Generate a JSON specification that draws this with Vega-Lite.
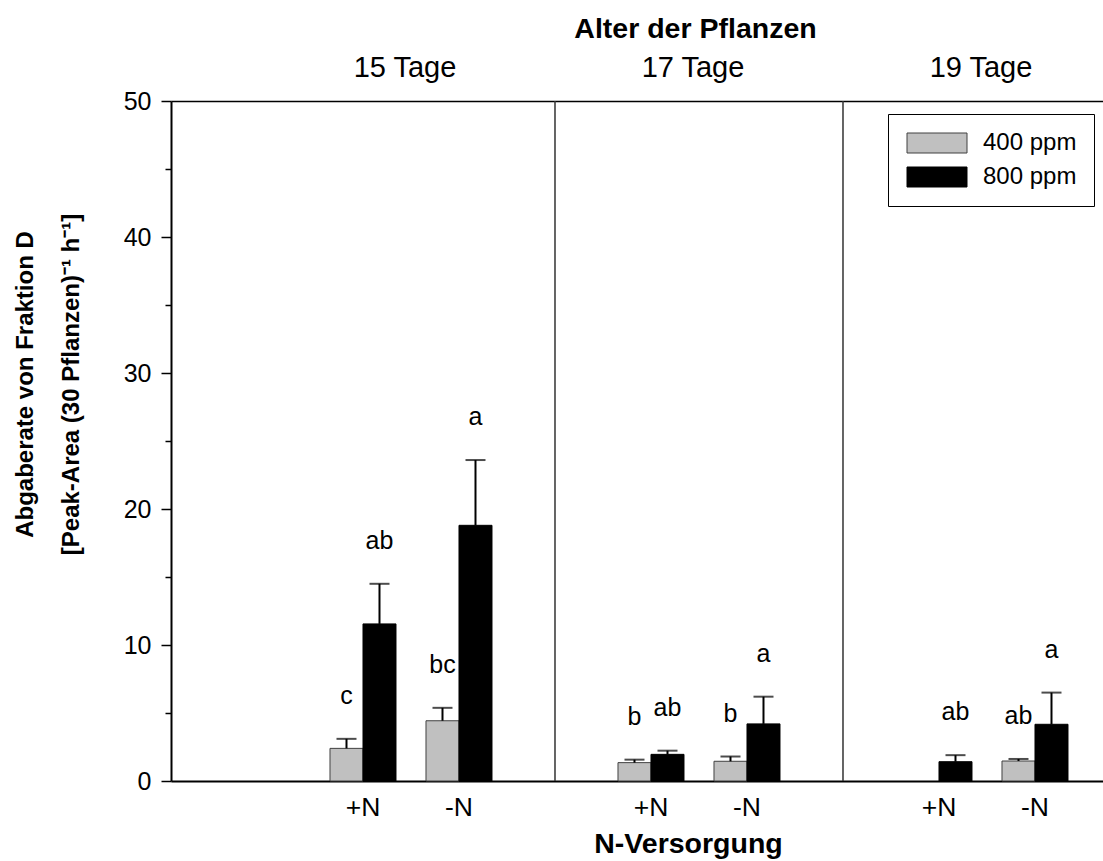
{
  "$schema": "https://vega.github.io/schema/vega-lite/v6.json",
  "width": 932,
  "height": 680,
  "autosize": {"type": "none"},
  "padding": {"left": 171, "top": 101, "right": 0, "bottom": 80},
  "config": {
    "view": {"stroke": null},
    "font": "Liberation Sans",
    "axis": {"grid": false}
  },
  "datasets": {
    "werte": [
      {"alter": "15 Tage", "n": "+N", "gruppe": "15 Tage +N", "co2": "400 ppm", "mittel": 2.4, "obergrenze": 3.1, "buchstabe": "c"},
      {"alter": "15 Tage", "n": "+N", "gruppe": "15 Tage +N", "co2": "800 ppm", "mittel": 11.55, "obergrenze": 14.5, "buchstabe": "ab"},
      {"alter": "15 Tage", "n": "-N", "gruppe": "15 Tage -N", "co2": "400 ppm", "mittel": 4.43, "obergrenze": 5.38, "buchstabe": "bc"},
      {"alter": "15 Tage", "n": "-N", "gruppe": "15 Tage -N", "co2": "800 ppm", "mittel": 18.8, "obergrenze": 23.6, "buchstabe": "a"},
      {"alter": "17 Tage", "n": "+N", "gruppe": "17 Tage +N", "co2": "400 ppm", "mittel": 1.35, "obergrenze": 1.57, "buchstabe": "b"},
      {"alter": "17 Tage", "n": "+N", "gruppe": "17 Tage +N", "co2": "800 ppm", "mittel": 1.96, "obergrenze": 2.23, "buchstabe": "ab"},
      {"alter": "17 Tage", "n": "-N", "gruppe": "17 Tage -N", "co2": "400 ppm", "mittel": 1.45, "obergrenze": 1.8, "buchstabe": "b"},
      {"alter": "17 Tage", "n": "-N", "gruppe": "17 Tage -N", "co2": "800 ppm", "mittel": 4.2, "obergrenze": 6.2, "buchstabe": "a"},
      {"alter": "19 Tage", "n": "+N", "gruppe": "19 Tage +N", "co2": "800 ppm", "mittel": 1.42, "obergrenze": 1.9, "buchstabe": "ab"},
      {"alter": "19 Tage", "n": "-N", "gruppe": "19 Tage -N", "co2": "400 ppm", "mittel": 1.47, "obergrenze": 1.62, "buchstabe": "ab"},
      {"alter": "19 Tage", "n": "-N", "gruppe": "19 Tage -N", "co2": "800 ppm", "mittel": 4.17, "obergrenze": 6.5, "buchstabe": "a"}
    ],
    "trenner": [
      {"gruppe": "15|17"},
      {"gruppe": "17|19"}
    ]
  },
  "layer": [
    {
      "data": {"name": "trenner"},
      "mark": {"type": "rule", "color": "#333333", "strokeWidth": 1.5},
      "encoding": {
        "x": {
          "field": "gruppe", "type": "nominal",
          "scale": {"type": "band", "domain": ["15 Tage +N", "15 Tage -N", "15|17", "17 Tage +N", "17 Tage -N", "17|19", "19 Tage +N", "19 Tage -N"], "paddingInner": 0, "paddingOuter": 0.8542, "align": 0.878},
          "axis": {
            "orient": "top",
            "title": "Alter der Pflanzen",
            "titleFontSize": 28.5, "titleFontWeight": "bold", "titleColor": "#000",
            "titleX": 524, "titleY": -64, "titleAlign": "center", "titleBaseline": "alphabetic",
            "labelExpr": "substring(datum.value, 8) === '+N' ? substring(datum.value, 0, 7) : ''",
            "labelAngle": 0, "labelOffset": 42, "labelFontSize": 29, "labelColor": "#000",
            "labelBaseline": "alphabetic", "labelPadding": 25,
            "ticks": false, "tickSize": 0,
            "domainColor": "#000", "domainWidth": 1.5
          }
        }
      }
    },
    {
      "data": {"name": "werte"},
      "mark": {"type": "bar", "strokeWidth": 1},
      "encoding": {
        "x": {
          "field": "gruppe", "type": "nominal",
          "scale": {"type": "band", "domain": ["15 Tage +N", "15 Tage -N", "15|17", "17 Tage +N", "17 Tage -N", "17|19", "19 Tage +N", "19 Tage -N"], "paddingInner": 0, "paddingOuter": 0.8542, "align": 0.878},
          "axis": {
            "orient": "bottom",
            "title": "N-Versorgung",
            "titleFontSize": 28.5, "titleFontWeight": "bold", "titleColor": "#000",
            "titleX": 517, "titleY": 71, "titleAlign": "center", "titleBaseline": "alphabetic",
            "labelExpr": "substring(datum.value, 8)",
            "labelAngle": 0, "labelFontSize": 26.5, "labelColor": "#000",
            "labelBaseline": "top", "labelPadding": 13,
            "ticks": false, "tickSize": 0,
            "domainColor": "#000", "domainWidth": 2
          }
        },
        "xOffset": {"field": "co2", "type": "nominal", "scale": {"domain": ["400 ppm", "800 ppm"], "paddingInner": 0, "paddingOuter": 0.4545}},
        "y": {
          "field": "mittel", "type": "quantitative",
          "scale": {"domain": [0, 50], "nice": false},
          "axis": {
            "orient": "left",
            "values": [0, 10, 20, 30, 40, 50],
            "tickSize": 10, "tickWidth": 1.5, "tickColor": "#000",
            "domainColor": "#000", "domainWidth": 2,
            "labelFontSize": 25, "labelColor": "#000", "labelPadding": 10, "labelBaseline": "middle",
            "title": ["Abgaberate von Fraktion D", "[Peak-Area (30 Pflanzen)⁻¹ h⁻¹]"],
            "titleFontSize": 24, "titleFontWeight": "bold", "titleColor": "#000",
            "titleAngle": -90, "titleX": -146, "titleY": 283,
            "titleAlign": "center", "titleBaseline": "middle", "titleLineHeight": 46
          }
        },
        "color": {
          "field": "co2", "type": "nominal",
          "scale": {"domain": ["400 ppm", "800 ppm"], "range": ["#c0c0c0", "#000000"]},
          "legend": {
            "orient": "none", "legendX": 717, "legendY": 13,
            "title": null,
            "symbolType": "M-1,-1H5V1H-1Z", "symbolSize": 400,
            "symbolStrokeColor": "#404040", "symbolStrokeWidth": 1,
            "labelFontSize": 24, "labelColor": "#000", "labelOffset": 54,
            "labelExpr": "datum.label + '\u00a0'",
            "rowPadding": 10, "padding": 17,
            "strokeColor": "#000", "fillColor": "#ffffff"
          }
        },
        "stroke": {
          "field": "co2", "type": "nominal",
          "scale": {"domain": ["400 ppm", "800 ppm"], "range": ["#404040", "#000000"]},
          "legend": null
        }
      }
    },
    {
      "data": {"name": "werte"},
      "mark": {"type": "rule", "color": "#000", "strokeWidth": 2},
      "encoding": {
        "x": {
          "field": "gruppe", "type": "nominal",
          "scale": {"type": "band", "domain": ["15 Tage +N", "15 Tage -N", "15|17", "17 Tage +N", "17 Tage -N", "17|19", "19 Tage +N", "19 Tage -N"], "paddingInner": 0, "paddingOuter": 0.8542, "align": 0.878},
          "axis": null
        },
        "xOffset": {"field": "co2", "type": "nominal", "scale": {"domain": ["400 ppm", "800 ppm"], "paddingInner": 0, "paddingOuter": 0.4545}},
        "y": {"field": "mittel", "type": "quantitative", "axis": null},
        "y2": {"field": "obergrenze"}
      }
    },
    {
      "data": {"name": "werte"},
      "mark": {"type": "tick", "orient": "horizontal", "size": 20, "thickness": 2, "color": "#000"},
      "encoding": {
        "x": {
          "field": "gruppe", "type": "nominal",
          "scale": {"type": "band", "domain": ["15 Tage +N", "15 Tage -N", "15|17", "17 Tage +N", "17 Tage -N", "17|19", "19 Tage +N", "19 Tage -N"], "paddingInner": 0, "paddingOuter": 0.8542, "align": 0.878},
          "axis": null
        },
        "xOffset": {"field": "co2", "type": "nominal", "scale": {"domain": ["400 ppm", "800 ppm"], "paddingInner": 0, "paddingOuter": 0.4545}},
        "y": {
          "field": "obergrenze", "type": "quantitative",
          "axis": {
            "orient": "left",
            "values": [5, 15, 25, 35, 45],
            "tickSize": 6, "tickWidth": 1.5, "tickColor": "#000",
            "labels": false, "domain": false, "title": null
          }
        }
      }
    },
    {
      "data": {"name": "werte"},
      "mark": {"type": "text", "fontSize": 25, "baseline": "alphabetic", "align": "center", "dy": -35, "color": "#000"},
      "encoding": {
        "x": {
          "field": "gruppe", "type": "nominal",
          "scale": {"type": "band", "domain": ["15 Tage +N", "15 Tage -N", "15|17", "17 Tage +N", "17 Tage -N", "17|19", "19 Tage +N", "19 Tage -N"], "paddingInner": 0, "paddingOuter": 0.8542, "align": 0.878},
          "axis": null
        },
        "xOffset": {"field": "co2", "type": "nominal", "scale": {"domain": ["400 ppm", "800 ppm"], "paddingInner": 0, "paddingOuter": 0.4545}},
        "y": {"field": "obergrenze", "type": "quantitative", "axis": null},
        "text": {"field": "buchstabe"}
      }
    }
  ],
  "resolve": {"axis": {"x": "independent", "y": "independent"}}
}
